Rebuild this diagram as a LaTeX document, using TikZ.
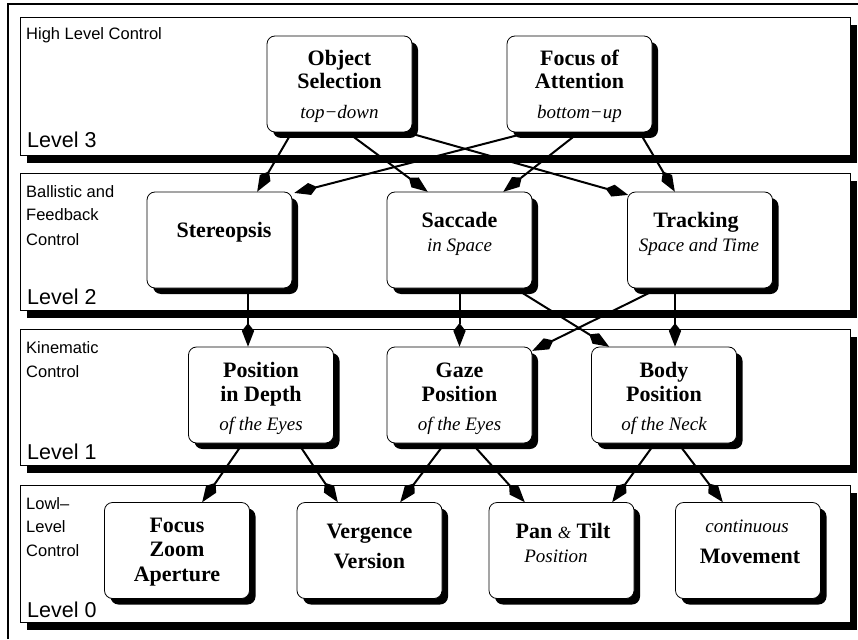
\documentclass[tikz,border=0pt]{standalone}
\usepackage{fontspec}
\setmainfont{Liberation Serif}
\newfontfamily\lsans{Liberation Sans}
\usetikzlibrary{arrows.meta,shadows,calc}
\pgfdeclarelayer{bands}
\pgfdeclarelayer{links}
\pgfsetlayers{bands,links,main}
\begin{document}
\begin{tikzpicture}[x=1pt,y=-1pt,
  band/.style={draw, line width=0.8pt, fill=white, minimum width=830pt, outer sep=0pt, inner sep=0pt,
    drop shadow={shadow xshift=7pt, shadow yshift=-8pt, fill=black, opacity=1}},
  box/.style={draw, line width=0.8pt, fill=white, rounded corners=8pt, minimum width=145pt,
    minimum height=96pt, outer sep=0pt, inner sep=0pt,
    drop shadow={shadow xshift=6pt, shadow yshift=-6pt, fill=black, opacity=1}},
  bt/.style={font=\fontsize{22}{24}\selectfont\bfseries, anchor=base, inner sep=0pt},
  it/.style={font=\fontsize{19}{22}\selectfont\itshape, anchor=base, inner sep=0pt},
  ttl/.style={font=\lsans\fontsize{16.5}{24}\selectfont, anchor=base west, inner sep=0pt},
  lvl/.style={font=\lsans\fontsize{21.5}{24}\selectfont, anchor=base west, inner sep=0pt},
  arr/.style={-{Stealth[length=16pt,width=11pt,inset=-8pt]}, line width=2pt}]
\useasboundingbox (0,0) rectangle (858,639);
\draw[line width=1.6pt] (8,639) -- (8,4) -- (858,4);

\begin{pgfonlayer}{bands}
\node[band, minimum height=138pt] (L3) at (435,86) {};
\node[band, minimum height=137pt] (L2) at (435,241.5) {};
\node[band, minimum height=136pt] (L1) at (435,397) {};
\node[band, minimum height=137pt] (L0) at (435,553.5) {};
\end{pgfonlayer}

% band labels
\node[ttl] (t3) at (26,40) {High Level Control};
\node[lvl] (v3) at (27,148) {Level 3};
\node[ttl] (t2a) at (26,197) {Ballistic and};
\node[ttl] (t2b) at (26,220) {Feedback};
\node[ttl] (t2c) at (26,245) {Control};
\node[lvl] (v2) at (27,304) {Level 2};
\node[ttl] (t1a) at (26,353) {Kinematic};
\node[ttl] (t1b) at (26,377) {Control};
\node[lvl] (v1) at (27,459) {Level 1};
\node[ttl] (t0a) at (26,509) {Lowl–};
\node[ttl] (t0b) at (26,532) {Level};
\node[ttl] (t0c) at (26,556) {Control};
\node[lvl] (v0) at (27,617) {Level 0};

% boxes
\node[box] (os) at (339.5,84) {};
\node[box] (fa) at (579.5,84) {};
\node[box] (st) at (219.5,240) {};
\node[box] (sa) at (459.5,240) {};
\node[box] (tr) at (700,240) {};
\node[box] (pd) at (261,395) {};
\node[box] (gz) at (459.5,395) {};
\node[box] (bp) at (664,395) {};
\node[box] (fz) at (177,550.5) {};
\node[box] (vv) at (369.5,550.5) {};
\node[box] (pt) at (561.5,550.5) {};
\node[box] (mv) at (748,550.5) {};

% box texts
\node[bt] (os1) at (339.5,66) {Object};
\node[bt] (os2) at (339.5,89) {Selection};
\node[it] (os3) at (339.5,119) {top−down};
\node[bt] (fa1) at (579.5,66) {Focus of};
\node[bt] (fa2) at (579.5,89) {Attention};
\node[it] (fa3) at (579.5,119) {bottom−up};
\node[bt] (st1) at (224,237) {Stereopsis};
\node[bt] (sa1) at (459.5,227) {Saccade};
\node[it] (sa2) at (459.5,251) {in Space};
\node[bt] (tr1) at (696,227) {Tracking};
\node[it] (tr2) at (699,251) {Space and Time};
\node[bt] (pd1) at (261,377) {Position};
\node[bt] (pd2) at (261,401) {in Depth};
\node[it] (pd3) at (261,430) {of the Eyes};
\node[bt] (gz1) at (459.5,377) {Gaze};
\node[bt] (gz2) at (459.5,401) {Position};
\node[it] (gz3) at (459.5,430) {of the Eyes};
\node[bt] (bp1) at (664,377) {Body};
\node[bt] (bp2) at (664,401) {Position};
\node[it] (bp3) at (664,430) {of the Neck};
\node[bt] (fz1) at (177,532) {Focus};
\node[bt] (fz2) at (177,556) {Zoom};
\node[bt] (fz3) at (177,581) {Aperture};
\node[bt] (vv1) at (369.5,538) {Vergence};
\node[bt] (vv2) at (369.5,568) {Version};
\node[bt] (pt1) at (563,538) {Pan {\fontsize{17}{17}\selectfont\mdseries\itshape\&} Tilt};
\node[it] (pt2) at (556,562) {Position};
\node[it] (mv1) at (747,532) {continuous};
\node[bt] (mv2) at (750,563) {Movement};

% connectors
\begin{pgfonlayer}{links}
\draw[arr] ($(os.south)+(-47.5,0)$) -- ($(st.north)+(37.5,0)$);
\draw[arr] ($(os.south)+(7.5,0)$) -- ($(sa.north)+(-31.5,0)$);
\draw[arr] ($(os.south)+(66,0)$) -- ($(tr.north west)+(1,3)$);
\draw[arr] ($(fa.south)+(-49.5,0)$) -- ($(st.north east)+(2,1)$);
\draw[arr] (fa.south) -- ($(sa.north)+(43.5,0)$);
\draw[arr] ($(fa.south)+(60,0)$) -- ($(tr.north)+(-25,0)$);

\draw[arr] ($(st.south)+(28.5,0)$) -- ($(pd.north)+(-13,0)$);
\draw[arr] (sa.south) -- (gz.north);
\draw[arr] ($(sa.south)+(55,0)$) -- ($(bp.north west)+(18,0)$);
\draw[arr] ($(tr.south)+(-41,0)$) -- ($(gz.north east)+(0,4)$);
\draw[arr] ($(tr.south)+(-25,0)$) -- ($(bp.north)+(11,0)$);

\draw[arr] ($(pd.south)+(-18,0)$) -- ($(fz.north)+(25,0)$);
\draw[arr] ($(pd.south)+(37,0)$) -- ($(vv.north)+(-31.5,0)$);
\draw[arr] ($(gz.south)+(-14.5,0)$) -- ($(vv.north)+(30.5,0)$);
\draw[arr] ($(gz.south)+(12,0)$) -- ($(pt.north)+(-36.5,0)$);
\draw[arr] ($(bp.south)+(-9,0)$) -- ($(pt.north)+(50.5,0)$);
\draw[arr] ($(bp.south)+(14,0)$) -- ($(mv.north)+(-25,0)$);
\end{pgfonlayer}
\end{tikzpicture}
\end{document}
